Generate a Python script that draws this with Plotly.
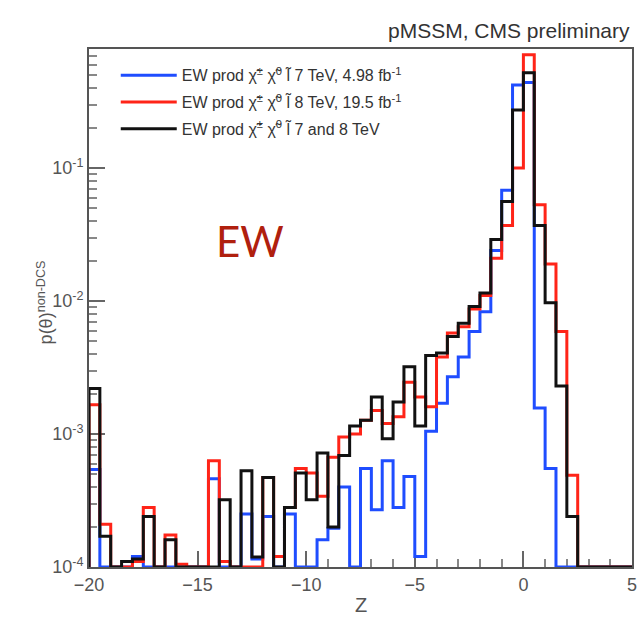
import numpy as np
import plotly.graph_objects as go

# ---- data: 50 bins of width 0.5 in Z, from -20 to 5 ----
z_edges = np.linspace(-20, 5, 51)

blue_7tev = [5.4e-4, 0, 0, 0, 1.2e-4, 0, 0, 0, 0, 0,
             0, 4.6e-4, 0, 0, 2.5e-4, 1.15e-4, 2.4e-4, 0, 2.5e-4, 0,
             0, 1.6e-4, 1.96e-4, 4.0e-4, 0, 5.5e-4, 2.7e-4, 6.3e-4, 2.8e-4, 4.8e-4,
             1.2e-4, 1.05e-3, 1.7e-3, 2.7e-3, 3.8e-3, 5.9e-3, 8.3e-3, 2.4e-2, 6.8e-2, 0.42,
             0.44, 1.57e-3, 5.5e-4, 0, 0, 0, 0, 0, 0, 0]

red_8tev = [1.66e-3, 2.1e-4, 0, 0, 1.1e-4, 2.8e-4, 0, 1.74e-4, 1.05e-4, 0,
            0, 6.3e-4, 1.1e-4, 0, 0, 0, 4.7e-4, 1.2e-4, 2.8e-4, 5.5e-4,
            5.1e-4, 3.4e-4, 6.7e-4, 9.5e-4, 1.0e-3, 1.27e-3, 1.5e-3, 1.2e-3, 1.35e-3, 2.45e-3,
            1.9e-3, 1.6e-3, 3.8e-3, 5.75e-3, 6.4e-3, 8.7e-3, 1.1e-2, 2.1e-2, 3.7e-2, 0.10,
            0.71, 5.3e-2, 1.9e-2, 5.9e-3, 4.9e-4, 0, 0, 0, 0, 0]

black_7and8 = [2.2e-3, 1.7e-4, 0, 1.1e-4, 1.15e-4, 2.4e-4, 0, 1.6e-4, 0, 0,
               0, 0, 3.2e-4, 0, 5.3e-4, 1.19e-4, 4.7e-4, 0, 2.8e-4, 5.1e-4,
               3.2e-4, 7.2e-4, 2.0e-4, 6.9e-4, 1.15e-3, 1.27e-3, 1.9e-3, 9.2e-4, 1.74e-3, 3.2e-3,
               1.15e-3, 3.9e-3, 4.07e-3, 5.4e-3, 6.8e-3, 9.1e-3, 1.15e-2, 2.9e-2, 5.6e-2, 0.273,
               0.52, 3.7e-2, 9.7e-3, 2.3e-3, 2.4e-4, 0, 0, 0, 0, 0]

series_names = [
    "EW prod χ̃<sup>±</sup> χ̃<sup>0</sup> l̃ 7 TeV, 4.98 fb<sup>-1</sup>",
    "EW prod χ̃<sup>±</sup> χ̃<sup>0</sup> l̃ 8 TeV, 19.5 fb<sup>-1</sup>",
    "EW prod χ̃<sup>±</sup> χ̃<sup>0</sup> l̃ 7 and 8 TeV",
]
series_colors = ["#1f4dff", "#ff2418", "#111111"]

x_ticks = [-20, -15, -10, -5, 0, 5]
y_ticks = [1e-4, 1e-3, 1e-2, 1e-1]
y_ticktext = ["10<sup>-4</sup>", "10<sup>-3</sup>", "10<sup>-2</sup>", "10<sup>-1</sup>"]
y_minor = [m * d for d in [1e-4, 1e-3, 1e-2, 1e-1] for m in range(2, 10)]

YMIN = 1e-4
YMAX = 0.785


def step_xy(vals):
    v = np.asarray(vals, dtype=float)
    v = np.where(v > 0, v, YMIN)
    xs = np.concatenate([[z_edges[0]], z_edges[:-1], [z_edges[-1]]])
    ys = np.concatenate([[YMIN], v, [YMIN]])
    return xs, ys


fig = go.Figure()
for vals, name, col in zip([blue_7tev, red_8tev, black_7and8], series_names, series_colors):
    xs, ys = step_xy(vals)
    fig.add_trace(go.Scatter(x=xs, y=ys, mode="lines", line=dict(color=col, width=3, shape="hv"),
                             name=name, legendgroup=name))

FONT = "Liberation Sans, Arial, sans-serif"
fig.update_layout(
    width=643, height=626,
    margin=dict(l=89, r=6, t=49, b=59),
    paper_bgcolor="white", plot_bgcolor="white",
    font=dict(family=FONT, color="#444"),
    showlegend=True,
    legend=dict(x=(116 - 89) / 548, y=0.982, xanchor="left", yanchor="top",
                bgcolor="rgba(0,0,0,0)", font=dict(size=16, color="#333", family=FONT),
                itemwidth=56, tracegroupgap=3),
    xaxis=dict(range=[-20, 5], tickvals=x_ticks, ticks="inside", ticklen=16, tickwidth=2,
               tickcolor="#666", showline=True, linecolor="#555", linewidth=2, mirror=True,
               showgrid=False, zeroline=False, layer="below traces",
               tickfont=dict(size=18, color="#555"),
               minor=dict(dtick=1, ticks="inside", ticklen=8, tickwidth=2, tickcolor="#888", showgrid=False)),
    yaxis=dict(type="log", range=[np.log10(YMIN), np.log10(YMAX)], tickvals=y_ticks, ticktext=y_ticktext,
               ticks="inside", ticklen=16, tickwidth=2, tickcolor="#666",
               showline=True, linecolor="#555", linewidth=2, mirror=True,
               showgrid=False, zeroline=False, layer="below traces",
               tickfont=dict(size=18, color="#555"),
               minor=dict(tickvals=y_minor, ticks="inside", ticklen=8, tickwidth=2, tickcolor="#888",
                          showgrid=False)),
)

fig.add_annotation(text="pMSSM, CMS preliminary", xref="paper", yref="paper", x=1.0, y=1.035,
                   xanchor="right", yanchor="middle", showarrow=False,
                   font=dict(size=21, color="#333", family=FONT))
fig.add_annotation(text="p(θ)<sup>non-DCS</sup>", xref="paper", yref="paper", x=-0.080, y=0.51,
                   xanchor="center", yanchor="middle", textangle=-90, showarrow=False,
                   font=dict(size=18, color="#555", family=FONT))
fig.add_annotation(text="Z", xref="paper", yref="paper", x=0.5, y=-0.073,
                   xanchor="center", yanchor="middle", showarrow=False,
                   font=dict(size=20, color="#555", family=FONT))
fig.add_annotation(text="EW", xref="paper", yref="paper", x=(251 - 89) / 548, y=(567 - 241) / 518,
                   xanchor="center", yanchor="middle", showarrow=False,
                   font=dict(size=42, color="#b0200e", family="Lato, Liberation Sans, sans-serif"))

fig.write_html("out.html")
